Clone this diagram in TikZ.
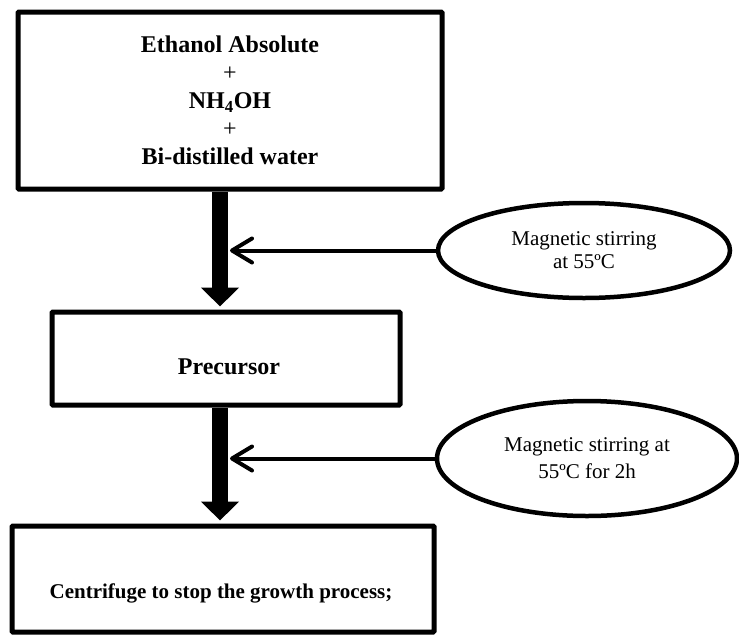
\documentclass[tikz,border=0pt]{standalone}
\usepackage{fontspec}
\setmainfont{Liberation Serif}
\usetikzlibrary{arrows.meta,shapes.geometric}
\begin{document}
\begin{tikzpicture}[x=1pt,y=-1pt,
  stepbox/.style={draw, line width=5pt, rounded corners=1pt, inner sep=0pt},
  steptext/.style={inner sep=0pt, font=\bfseries\fontsize{24}{28}\selectfont},
  stirring/.style={draw, ellipse, line width=4.5pt, inner sep=0pt, align=center},
  flow/.style={line width=16pt, shorten >=3pt, -{Triangle[width=37pt,length=19pt]}},
  feed/.style={line width=4pt, -{Straight Barb[length=20pt,width=24pt,round]}}]
  \useasboundingbox (0,0) rectangle (739,635);

  % process steps
  \node[stepbox, minimum width=424pt, minimum height=177pt, align=center,
        font=\bfseries\fontsize{24}{28}\selectfont] (mix) at (230,100.5)
    {Ethanol Absolute\\{\mdseries +}\\NH\textsubscript{4}OH\\{\mdseries +}\\Bi-distilled water};
  \node[stepbox, minimum width=348pt, minimum height=93pt] (pre) at (226,358.5) {};
  \node[steptext] (pretext) at (229,367) {Precursor};
  \node[stepbox, minimum width=422pt, minimum height=106pt] (cen) at (223,579) {};
  \node[steptext, font=\bfseries\fontsize{21}{25}\selectfont] (centext) at (221,593)
    {Centrifuge to stop the growth process;};

  % conditions
  \node[stirring, minimum width=292pt, minimum height=95pt,
        font=\fontsize{21}{23}\selectfont] (stir1) at (584,250.5)
    {Magnetic stirring\\at 55ºC};
  \node[stirring, minimum width=300pt, minimum height=115pt,
        font=\fontsize{21}{27}\selectfont] (stir2) at (587,458.5)
    {Magnetic stirring at\\55ºC for 2h};

  % main flow
  \coordinate (axis) at (220,0);
  \coordinate (edge) at (230,0);
  \draw[flow] (mix.south -| axis) -- (pre.north -| axis);
  \draw[flow] (pre.south -| axis) -- (cen.north -| axis);

  % side inputs
  \draw[feed] (stir1.west) -- (stir1.west -| edge);
  \draw[feed] (stir2.west) -- (stir2.west -| edge);
\end{tikzpicture}
\end{document}
